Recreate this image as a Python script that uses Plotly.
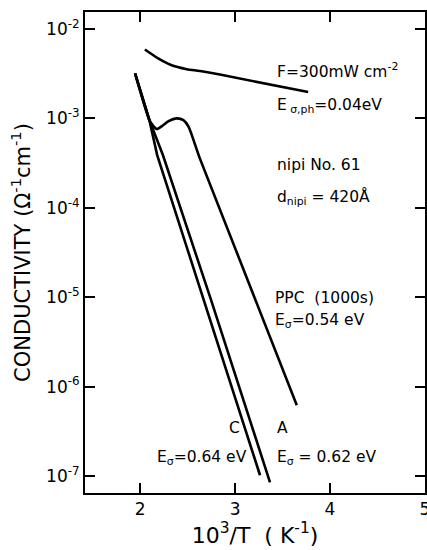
import plotly.graph_objects as go

# Inverse temperature 10^3/T (K^-1) and conductivity (Ohm^-1 cm^-1)
photo_x = [2.05, 2.12, 2.19, 2.32, 2.49, 2.63, 2.84, 3.77]
photo_sigma = [5.89e-3, 5.25e-3, 4.68e-3, 3.98e-3, 3.55e-3, 3.39e-3, 3.09e-3, 1.97e-3]

ppc_x = [1.947, 2.098, 2.14, 2.176, 2.23, 2.30, 2.386, 2.456, 2.51, 2.63, 3.65]
ppc_sigma = [3.19e-3, 9.55e-4, 8.2e-4, 7.6e-4, 8.2e-4, 9.3e-4, 1.0e-3, 9.55e-4, 8.1e-4, 3.55e-4, 6.2e-7]

dark_c_x = [1.947, 2.098, 2.18, 2.667, 3.263]
dark_c_sigma = [3.19e-3, 9.55e-4, 3.89e-4, 9.33e-6, 1.02e-7]

dark_a_x = [1.947, 2.098, 2.24, 2.747, 3.368]
dark_a_sigma = [3.19e-3, 9.55e-4, 3.89e-4, 9.33e-6, 8.5e-8]

x_ticks = [2, 3, 4, 5]
y_ticks = [1e-7, 1e-6, 1e-5, 1e-4, 1e-3, 1e-2]
y_tick_text = ["10<sup>-7</sup>", "10<sup>-6</sup>", "10<sup>-5</sup>",
               "10<sup>-4</sup>", "10<sup>-3</sup>", "10<sup>-2</sup>"]

FONT = "DejaVu Sans"

fig = go.Figure()
line = dict(color="black", width=2.6)
fig.add_trace(go.Scatter(x=photo_x, y=photo_sigma, mode="lines",
                         line=dict(line, shape="spline", smoothing=0.8)))
fig.add_trace(go.Scatter(x=ppc_x, y=ppc_sigma, mode="lines",
                         line=dict(line, shape="spline", smoothing=0.6)))
fig.add_trace(go.Scatter(x=dark_c_x, y=dark_c_sigma, mode="lines", line=line))
fig.add_trace(go.Scatter(x=dark_a_x, y=dark_a_sigma, mode="lines", line=line))

notes = [
    (3.42, -2.46, "F=300mW cm<sup>-2</sup>"),
    (3.42, -2.86, "E<sub> σ,ph</sub>=0.04eV"),
    (3.42, -3.52, "nipi No. 61"),
    (3.42, -3.88, "d<sub>nipi</sub> = 420Å"),
    (3.40, -5.01, "PPC  (1000s)"),
    (3.40, -5.27, "E<sub>σ</sub>=0.54 eV"),
    (2.91, -6.46, "C"),
    (3.42, -6.46, "A"),
    (3.42, -6.80, "E<sub>σ</sub> = 0.62 eV"),
    (2.16, -6.80, "E<sub>σ</sub>=0.64 eV"),
]
for nx, ny, txt in notes:
    fig.add_annotation(x=nx, y=ny, xref="x", yref="y", text=txt, showarrow=False,
                       xanchor="left", yanchor="middle",
                       font=dict(family=FONT, size=15.5, color="black"))

axis_common = dict(showline=True, linecolor="black", linewidth=2, mirror="ticks",
                   ticks="inside", ticklen=10, tickwidth=1.6, tickcolor="black",
                   showgrid=False, zeroline=False, automargin=False,
                   ticklabeloverflow="allow")

fig.update_layout(
    width=427, height=550,
    margin=dict(l=85, r=2, t=12, b=57),
    paper_bgcolor="white", plot_bgcolor="white",
    showlegend=False,
    font=dict(family=FONT, color="black"),
    xaxis=dict(axis_common, range=[1.42, 5.0], tickvals=x_ticks,
               ticktext=[str(v) for v in x_ticks],
               tickfont=dict(family=FONT, size=17),
               title=dict(text="10<sup>3</sup>/T  ( K<sup>-1</sup>)",
                          font=dict(family=FONT, size=22), standoff=6)),
    yaxis=dict(axis_common, type="log", range=[-7.19, -1.81], tickvals=y_ticks,
               ticktext=y_tick_text, tickfont=dict(family=FONT, size=17),
               title=dict(text="CONDUCTIVITY (Ω<sup>-1</sup>cm<sup>-1</sup>)",
                          font=dict(family=FONT, size=21), standoff=10)),
)

fig.write_html("out.html")
